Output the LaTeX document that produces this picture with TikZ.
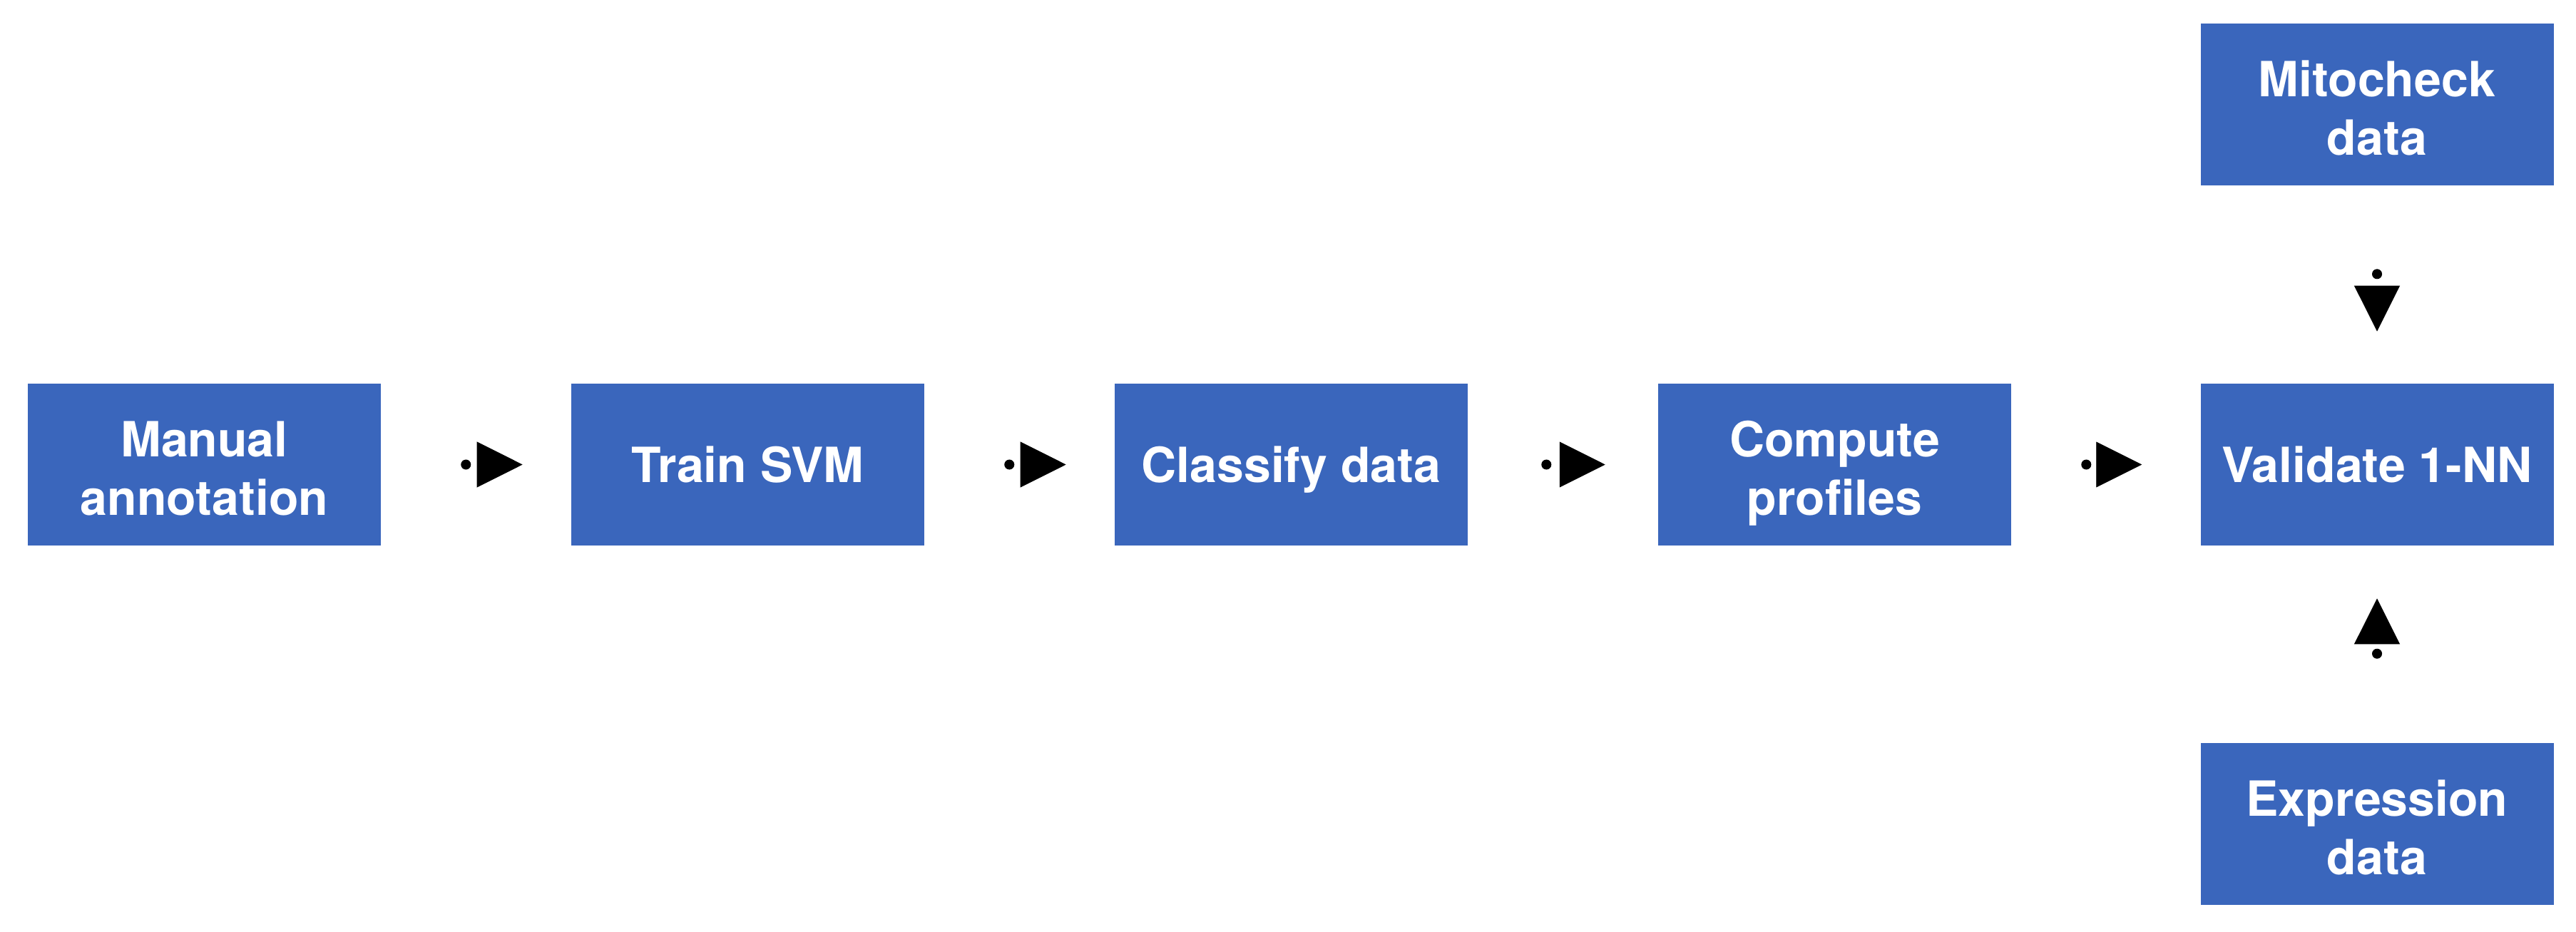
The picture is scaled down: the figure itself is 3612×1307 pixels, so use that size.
\documentclass[tikz,border=0pt]{standalone}
\usepackage{fontspec}
\setmainfont{TeX Gyre Heros}
\usetikzlibrary{arrows.meta}
\definecolor{boxblue}{RGB}{58,102,188}
\begin{document}
\begin{tikzpicture}[x=0.02cm,y=-0.02cm,
  stepbox/.style={rectangle, fill=boxblue, text=white, minimum width=9.9cm, minimum height=4.54cm,
    inner sep=0pt, text depth=0pt, align=center, font=\fontsize{38.7}{46.8}\selectfont\bfseries},
  twoline/.style={stepbox, text height=2.83cm, text depth=0pt},
  conn/.style={draw=white, line width=0.5pt,
    {Circle[black,length=0.28cm]}-{Triangle[black,length=1.28cm,width=1.28cm]}}]
\useasboundingbox (0,0) rectangle (3612,1307);
\node[twoline] (m) at (286.5,651.5) {Manual\\annotation};
\node[stepbox] (t) at (1048.5,651.5) {Train SVM};
\node[stepbox] (c) at (1810.5,651.5) {Classify data};
\node[twoline] (p) at (2572.5,651.5) {Compute\\profiles};
\node[stepbox] (v) at (3333,651.5) {Validate 1-NN};
\node[twoline] (mi) at (3333,146.5) {Mitocheck\\data};
\node[twoline] (e) at (3333,1155.5) {Expression\\data};
\draw[conn, shorten <=2.24cm, shorten >=1.36cm] (m) -- (t);
\draw[conn, shorten <=2.24cm, shorten >=1.36cm] (t) -- (c);
\draw[conn, shorten <=2.06cm, shorten >=1.48cm] (c) -- (p);
\draw[conn, shorten <=1.96cm, shorten >=1.64cm] (p) -- (v);
\draw[conn, shorten <=2.34cm, shorten >=1.46cm] (mi) -- (v);
\draw[conn, shorten <=2.36cm, shorten >=1.48cm] (e) -- (v);
\end{tikzpicture}
\end{document}
